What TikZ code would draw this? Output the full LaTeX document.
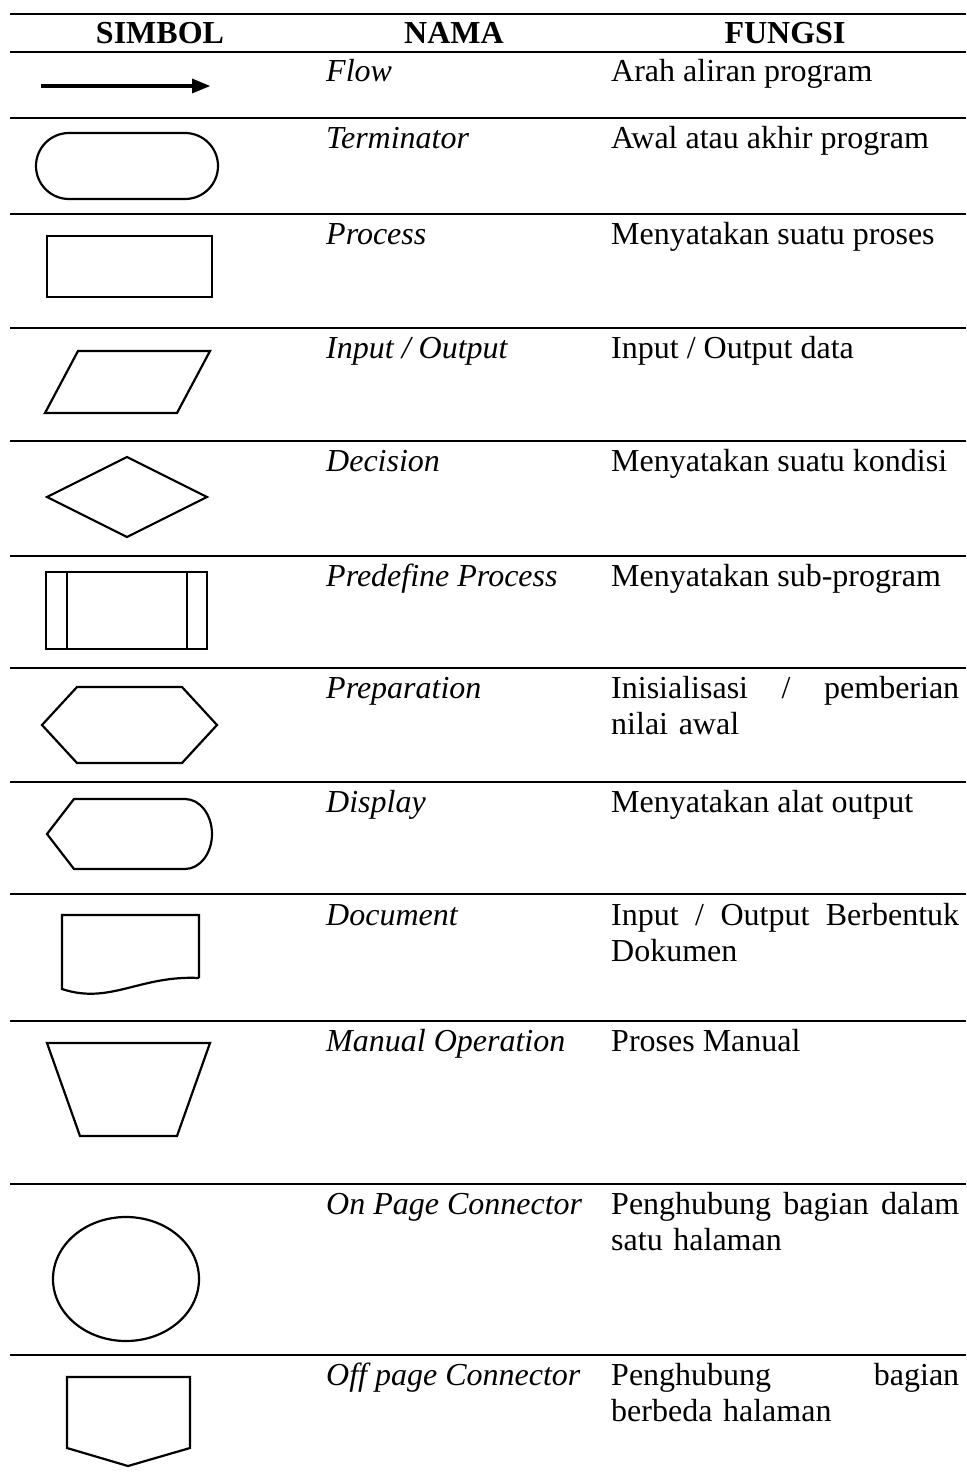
\documentclass[tikz,border=0pt]{standalone}
\usepackage{fontspec}
\setmainfont{Liberation Serif}
\begin{document}
\begin{tikzpicture}[x=1pt,y=-1pt,
  rule/.style={line width=2.2pt},
  shp/.style={line width=2.2pt, line join=miter},
  hdr/.style={anchor=base, inner sep=0pt, font=\fontsize{32}{36.8}\selectfont\bfseries},
  nama/.style={anchor=base west, inner sep=0pt, font=\fontsize{32}{36.8}\selectfont\itshape},
  fungsi/.style={anchor=base west, inner sep=0pt, font=\fontsize{32}{36.8}\selectfont},
  fungsi2/.style={anchor=base west, inner sep=0pt, text width=348pt, align=left, font=\fontsize{32}{36.8}\selectfont}]
\fill[white] (0,0) rectangle (966,1477);
\useasboundingbox (0,0) rectangle (966,1477);
% table rules
\foreach \yy in {14,52,118,214,328,441,556,668,782,894,1021,1184,1355}
  \draw[rule] (10,\yy) -- (966,\yy);
% header
\node[hdr] (h1) at (160,44) {SIMBOL};
\node[hdr] (h2) at (454,44) {NAMA};
\node[hdr] (h3) at (785,44) {FUNGSI};
% names
\node[nama] (n1) at (326,82) {Flow};
\node[nama] (n2) at (326,148) {Terminator};
\node[nama] (n3) at (326,244) {Process};
\node[nama] (n4) at (326,358) {Input / Output};
\node[nama] (n5) at (326,471) {Decision};
\node[nama] (n6) at (326,586) {Predefine Process};
\node[nama] (n7) at (326,698) {Preparation};
\node[nama] (n8) at (326,812) {Display};
\node[nama] (n9) at (326,925) {Document};
\node[nama] (n10) at (326,1051) {Manual Operation};
\node[nama] (n11) at (326,1214) {On Page Connector};
\node[nama] (n12) at (326,1385) {Off page Connector};
% functions
\node[fungsi] (f1) at (611,82) {Arah aliran program};
\node[fungsi] (f2) at (611,148) {Awal atau akhir program};
\node[fungsi] (f3) at (611,244) {Menyatakan suatu proses};
\node[fungsi] (f4) at (611,358) {Input / Output data};
\node[fungsi] (f5) at (611,471) {Menyatakan suatu kondisi};
\node[fungsi] (f6) at (611,586) {Menyatakan sub-program};
\node[fungsi2] (f7) at (611,698) {Inisialisasi\hfill/\hfill pemberian\\nilai awal};
\node[fungsi] (f8) at (611,812) {Menyatakan alat output};
\node[fungsi2] (f9) at (611,925) {Input\hfill/\hfill Output\hfill Berbentuk\\Dokumen};
\node[fungsi] (f10) at (611,1051) {Proses Manual};
\node[fungsi2] (f11) at (611,1214) {Penghubung\hfill bagian\hfill dalam\\satu halaman};
\node[fungsi2] (f12) at (611,1385) {Penghubung\hfill bagian\\berbeda halaman};
% symbols
% flow arrow
\coordinate (fa) at (41,86);
\coordinate (fb) at (194,86);
\draw[line width=3.2pt] (fa) -- (fb);
\fill (192,78.5) -- (210,86) -- (192,93.5) -- cycle;
% terminator
\draw[shp, rounded corners=33pt] (36,133) rectangle (218,199);
% process
\draw[shp] (47,236) rectangle (212,297);
% input/output
\draw[shp] (78,351) -- (210,351) -- (177,413) -- (45,413) -- cycle;
% decision
\draw[shp] (47,497) -- (127,457) -- (207,497) -- (127,537) -- cycle;
% predefined process
\draw[shp] (46,572) rectangle (207,649);
\draw[shp] (67,572) -- (67,649);
\draw[shp] (187,572) -- (187,649);
% preparation
\draw[shp] (42,725) -- (77,687) -- (182,687) -- (217,725) -- (182,763) -- (77,763) -- cycle;
% display
\draw[shp] (47,834) -- (74,799) -- (185,799) arc[start angle=-90, end angle=90, x radius=27, y radius=35] -- (74,869) -- cycle;
% document
\draw[shp] (199,978) -- (199,915) -- (62,915) -- (62,989) .. controls (110,1005) and (140,975) .. (199,978);
% manual operation
\draw[shp] (47,1043) -- (210,1043) -- (177,1136) -- (80,1136) -- cycle;
% on page connector
\draw[shp] (126,1279) ellipse [x radius=73, y radius=62];
% off page connector
\draw[shp] (67,1377) -- (190,1377) -- (190,1448) -- (128,1466) -- (67,1448) -- cycle;
\end{tikzpicture}
\end{document}
